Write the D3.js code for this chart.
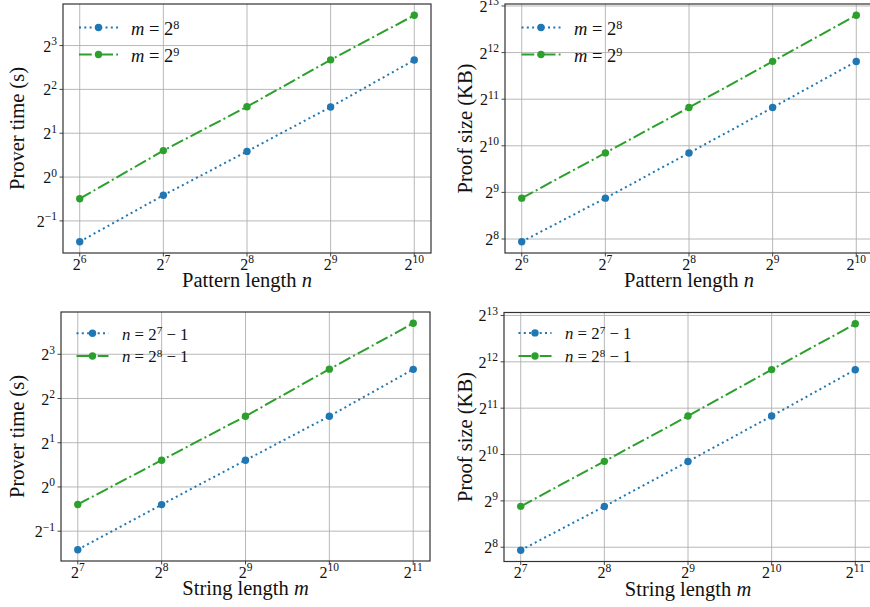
<!DOCTYPE html>
<html>
<head>
<meta charset="utf-8">
<script src="https://cdn.jsdelivr.net/npm/d3@7"></script>
<style>
  body { margin: 0; background: #fff; }
  svg { display: block; font-family: "Liberation Serif", "Times New Roman", serif; }
</style>
</head>
<body>
<svg id="chart" width="870" height="607"></svg>
<script>
// x values
const patternLengths = [64, 128, 256, 512, 1024];
const stringLengths = [128, 256, 512, 1024, 2048];

// prover time (s) vs pattern length n
const timeVsN_m8 = [0.36, 0.75, 1.5, 3.03, 6.36];
const timeVsN_m9 = [0.71, 1.52, 3.04, 6.38, 12.9];
// proof size (KB) vs pattern length n
const sizeVsN_m8 = [246, 470, 920, 1808, 3590];
const sizeVsN_m9 = [470, 921, 1810, 3595, 7130];
// prover time (s) vs string length m
const timeVsM_n7 = [0.374, 0.758, 1.52, 3.03, 6.32];
const timeVsM_n8 = [0.76, 1.52, 3.03, 6.34, 13.0];
// proof size (KB) vs string length m
const sizeVsM_n7 = [245, 471, 923, 1820, 3640];
const sizeVsM_n8 = [472, 925, 1822, 3645, 7230];

// tick exponents (base 2)
const nTickExps = [6, 7, 8, 9, 10];
const mTickExps = [7, 8, 9, 10, 11];
const timeTickExps = [-1, 0, 1, 2, 3];
const sizeTickExps = [8, 9, 10, 11, 12, 13];

// legend labels: [variable, exponent, suffix]
const legendM = [["m", "8", ""], ["m", "9", ""]];
const legendN = [["n", "7", " − 1"], ["n", "8", " − 1"]];

const BLUE = "#1f77b4", GREEN = "#2ca02c";
const LW = 2;
const dotted = [1 * LW, 1.65 * LW].join(",");
const dashDot = [6.4 * LW, 1.6 * LW, 1 * LW, 1.6 * LW].join(",");
const TICK_FS = 16, SUP_FS = 11.5;

const panels = [
  { x: 63, y: 4, w: 368, h: 249, xs: patternLengths, ys: [timeVsN_m8, timeVsN_m9],
    xTicks: nTickExps, yTicks: timeTickExps, xLabel: ["Pattern length ", "n"], yLabel: "Prover time (s)",
    yLabelX: 24, legend: legendM, lg: { off: 16, len: 39, tx: 68, rows: [23.5, 50.5], fs: 18.5, dy: 7.6 } },
  { x: 505, y: 4, w: 368, h: 249, xs: patternLengths, ys: [sizeVsN_m8, sizeVsN_m9],
    xTicks: nTickExps, yTicks: sizeTickExps, xLabel: ["Pattern length ", "n"], yLabel: "Proof size (KB)",
    yLabelX: 472, legend: legendM, lg: { off: 16.5, len: 39, tx: 69, rows: [23.5, 50.5], fs: 18.5, dy: 7.6 } },
  { x: 61, y: 312, w: 369, h: 249, xs: stringLengths, ys: [timeVsM_n7, timeVsM_n8],
    xTicks: mTickExps, yTicks: timeTickExps, xLabel: ["String length ", "m"], yLabel: "Prover time (s)",
    yLabelX: 24, legend: legendN, lg: { off: 15.5, len: 32, tx: 61, rows: [21.3, 44], fs: 16.8, dy: 6.2 } },
  { x: 504, y: 312.5, w: 368, h: 249, xs: stringLengths, ys: [sizeVsM_n7, sizeVsM_n8],
    xTicks: mTickExps, yTicks: sizeTickExps, xLabel: ["String length ", "m"], yLabel: "Proof size (KB)",
    yLabelX: 472, legend: legendN, lg: { off: 14.5, len: 33, tx: 61, rows: [20.4, 43.5], fs: 16.8, dy: 6.2 } }
];

const styles = [
  { color: BLUE, dash: dotted },
  { color: GREEN, dash: dashDot }
];

const svg = d3.select("#chart");

// "2" with a raised exponent
function pow2(sel, exp) {
  sel.append("tspan").text("2");
  sel.append("tspan")
    .attr("dy", -6.5)
    .attr("font-size", SUP_FS)
    .text(exp < 0 ? "−" + (-exp) : exp);
}

// log-space padded domain like matplotlib's 5% margins
function padDomain(vals) {
  const lo = Math.log2(d3.min(vals)), hi = Math.log2(d3.max(vals));
  const m = (hi - lo) * 0.05;
  return [Math.pow(2, lo - m), Math.pow(2, hi + m)];
}

panels.forEach((p, pi) => {
  const g = svg.append("g").attr("transform", `translate(${p.x},${p.y})`);

  const x = d3.scaleLog().base(2).domain(padDomain(p.xs)).range([0, p.w]);
  const y = d3.scaleLog().base(2).domain(padDomain(p.ys.flat())).range([p.h, 0]);

  const clipId = "clip" + pi;
  g.append("clipPath").attr("id", clipId)
    .append("rect").attr("width", p.w).attr("height", p.h);

  // grid
  g.append("g").selectAll("line")
    .data(p.xTicks).enter().append("line")
    .attr("x1", d => x(Math.pow(2, d))).attr("x2", d => x(Math.pow(2, d)))
    .attr("y1", 0).attr("y2", p.h)
    .attr("stroke", "#b0b0b0").attr("stroke-width", 0.9);
  g.append("g").selectAll("line")
    .data(p.yTicks).enter().append("line")
    .attr("y1", d => y(Math.pow(2, d))).attr("y2", d => y(Math.pow(2, d)))
    .attr("x1", 0).attr("x2", p.w)
    .attr("stroke", "#b0b0b0").attr("stroke-width", 0.9);

  // lines + markers
  const plot = g.append("g").attr("clip-path", `url(#${clipId})`);
  p.ys.forEach((vals, si) => {
    const st = styles[si];
    const pts = vals.map((v, i) => [p.xs[i], v]);
    plot.append("path")
      .attr("d", d3.line().x(d => x(d[0])).y(d => y(d[1]))(pts))
      .attr("fill", "none")
      .attr("stroke", st.color)
      .attr("stroke-width", LW)
      .attr("stroke-dasharray", st.dash);
    plot.append("g").selectAll("circle")
      .data(pts).enter().append("circle")
      .attr("cx", d => x(d[0])).attr("cy", d => y(d[1]))
      .attr("r", 3.7).attr("fill", st.color);
  });

  // frame
  g.append("rect")
    .attr("width", p.w).attr("height", p.h)
    .attr("fill", "none").attr("stroke", "#333").attr("stroke-width", 1.2);

  // x ticks
  const xt = g.append("g").selectAll("g")
    .data(p.xTicks).enter().append("g")
    .attr("transform", d => `translate(${x(Math.pow(2, d))},${p.h})`);
  xt.append("line").attr("y2", 3.5).attr("stroke", "#333").attr("stroke-width", 0.9);
  xt.append("text")
    .attr("y", 16.8).attr("text-anchor", "middle").attr("font-size", TICK_FS).attr("fill", "#111")
    .each(function (d) { pow2(d3.select(this), d); });

  // y ticks
  const yt = g.append("g").selectAll("g")
    .data(p.yTicks).enter().append("g")
    .attr("transform", d => `translate(0,${y(Math.pow(2, d))})`);
  yt.append("line").attr("x2", -3.5).attr("stroke", "#333").attr("stroke-width", 0.9);
  yt.append("text")
    .attr("x", -6).attr("y", 6).attr("text-anchor", "end").attr("font-size", TICK_FS).attr("fill", "#111")
    .each(function (d) { pow2(d3.select(this), d); });

  // axis labels
  const xl = g.append("text")
    .attr("x", p.w / 2).attr("y", p.h + 34)
    .attr("text-anchor", "middle").attr("font-size", 20.5).attr("fill", "#111");
  xl.append("tspan").text(p.xLabel[0]);
  xl.append("tspan").attr("font-style", "italic").text(p.xLabel[1]);

  svg.append("text")
    .attr("transform", `translate(${p.yLabelX},${p.y + p.h / 2}) rotate(-90)`)
    .attr("text-anchor", "middle").attr("font-size", 20.5).attr("fill", "#111")
    .text(p.yLabel);

  // legend
  const lg = p.lg;
  p.legend.forEach((lab, si) => {
    const st = styles[si];
    const ry = lg.rows[si];
    const x1 = lg.off, x2 = lg.off + lg.len;
    g.append("line")
      .attr("x1", x1).attr("x2", x2).attr("y1", ry).attr("y2", ry)
      .attr("stroke", st.color).attr("stroke-width", LW)
      .attr("stroke-dasharray", st.dash);
    g.append("circle")
      .attr("cx", (x1 + x2) / 2).attr("cy", ry).attr("r", 3.7).attr("fill", st.color);
    const t = g.append("text")
      .attr("x", lg.tx).attr("y", ry + lg.dy)
      .attr("font-size", lg.fs).attr("fill", "#111")
      .attr("xml:space", "preserve");
    t.append("tspan").attr("font-style", "italic").text(lab[0]);
    t.append("tspan").text(" = 2");
    t.append("tspan").attr("dy", -lg.fs * 0.33).attr("font-size", lg.fs * 0.66).text(lab[1]);
    if (lab[2]) t.append("tspan").attr("dy", lg.fs * 0.33).text(lab[2]);
  });
});
</script>
</body>
</html>
